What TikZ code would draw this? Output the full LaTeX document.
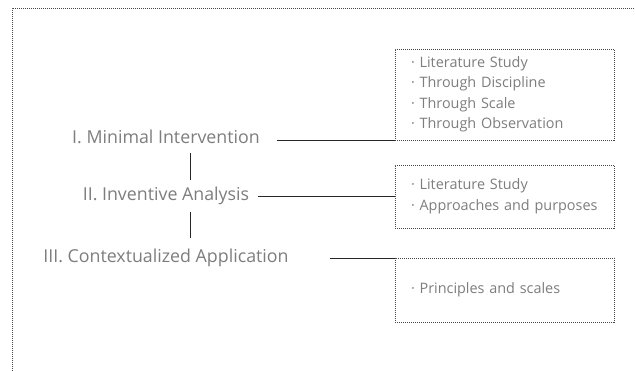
\documentclass[tikz,border=0pt]{standalone}
\usepackage{fontspec}
\setmainfont{Open Sans}
\definecolor{txtgray}{RGB}{125,125,125}
\definecolor{framegray}{RGB}{70,70,70}
\begin{document}
\begin{tikzpicture}[x=1pt,y=1pt,
  stage/.style={font=\fontsize{17.8}{20}\selectfont, text=txtgray, inner sep=0pt, anchor=base},
  itembox/.style={draw=framegray, dash pattern=on 1pt off 1pt, line width=0.7pt, outer sep=0pt,
     minimum width=219pt, anchor=north west, inner xsep=16pt, inner ysep=0pt,
     text width=187pt, align=left, font=\fontsize{14.4}{20.5}\selectfont, text=txtgray},
  conn/.style={draw=black!85, line width=0.8pt},
  frame/.style={draw=framegray, dash pattern=on 1pt off 1pt, line width=0.7pt}]
\useasboundingbox (0,0) rectangle (635,-371);
% outer frame (partially visible)
\coordinate (fbl) at (12,-371);
\coordinate (ftl) at (12,-8);
\coordinate (ftr) at (635,-8);
\draw[frame] (fbl) -- (ftl) -- (ftr);
% stage texts
\node[stage] (t1) at (166,-144) {I. Minimal Intervention};
\node[stage] (t2) at (166,-201) {II. Inventive Analysis};
\node[stage] (t3) at (166,-263) {III. Contextualized Application};
% boxes
\node[itembox, minimum height=91pt] (b1) at (395,-49) {%
  {\textperiodcentered} Literature Study\\
  {\textperiodcentered} Through Discipline\\
  {\textperiodcentered} Through Scale\\
  {\textperiodcentered} Through Observation};
\node[itembox, minimum height=63pt] (b2) at (395,-165) {%
  {\textperiodcentered} Literature Study\\
  {\textperiodcentered} Approaches and purposes};
\node[itembox, minimum height=64pt] (b3) at (395,-258) {%
  {\textperiodcentered} Principles and scales};
% connectors
\coordinate (c1) at (277,-140);
\coordinate (c2) at (258,-196);
\coordinate (c3) at (330,-258);
\draw[conn] (c1) -- (b1.south west);
\draw[conn] (c2) -- (c2 -| b2.west);
\draw[conn] (c3) -- (b3.north west);
\coordinate (v1a) at (190,-153);
\coordinate (v1b) at (190,-180);
\coordinate (v2a) at (190,-212);
\coordinate (v2b) at (190,-238);
\draw[conn] (v1a) -- (v1b);
\draw[conn] (v2a) -- (v2b);
\end{tikzpicture}
\end{document}
